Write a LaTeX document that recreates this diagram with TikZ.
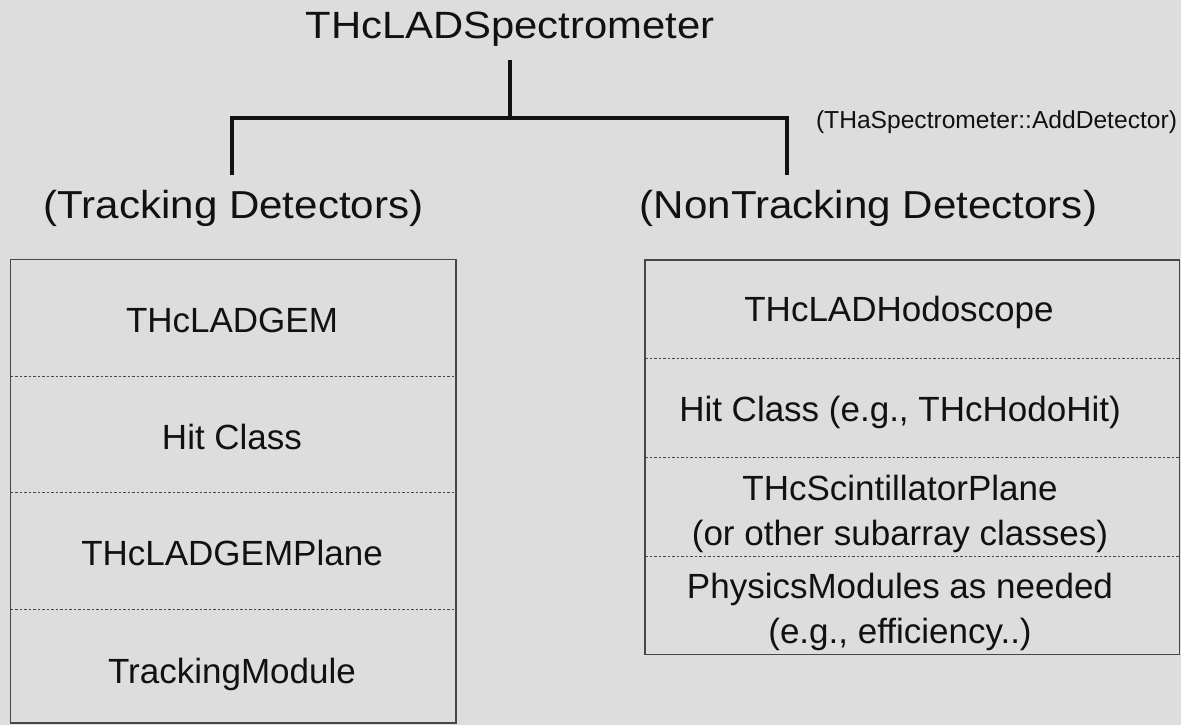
\documentclass[tikz,border=0pt]{standalone}
\usepackage{fontspec}
\setmainfont{Liberation Sans}
\newfontfamily\widef{Liberation Sans}[FakeStretch=1.08]
\newfontfamily\widerf{Liberation Sans}[FakeStretch=1.1]
\definecolor{bg}{RGB}{221,221,221}
\definecolor{frame}{RGB}{70,70,70}
\definecolor{ink}{RGB}{17,17,17}
\begin{document}
\begin{tikzpicture}[x=1pt,y=-1pt,
  conn/.style={line width=4pt,ink,line join=miter},
  boxline/.style={line width=1.3pt,frame},
  sepline/.style={line width=0.9pt,frame,dash pattern=on 2.5pt off 2pt},
  title/.style={anchor=base,inner sep=0pt,text=ink,font=\widerf\fontsize{38}{40}\selectfont},
  head/.style={anchor=base,inner sep=0pt,text=ink,font=\widef\fontsize{39}{42}\selectfont},
  cell/.style={anchor=base,inner sep=0pt,text=ink,font=\fontsize{35}{38}\selectfont},
  note/.style={anchor=base,inner sep=0pt,text=ink,font=\fontsize{24.6}{26}\selectfont}]
\fill[bg] (0,0) rectangle (1181,725);
\useasboundingbox (0,0) rectangle (1181,725);

% header texts
\node[title] (spec) at (510,38.3) {THcLADSpectrometer};
\node[note] (add) at (996.5,128.3) {(THaSpectrometer::AddDetector)};
\node[head] (trk) at (233.5,218.3) {(Tracking Detectors)};
\node[head] (ntrk) at (868.5,218.3) {(NonTracking Detectors)};

% tree connector
\coordinate (stemtop) at (510,60);
\coordinate (bar) at (510,118);
\coordinate (tdrop) at (232,175);
\coordinate (ndrop) at (787,175);
\draw[conn] (stemtop) -- (bar);
\draw[conn] (tdrop) |- (bar) -| (ndrop);

% left box
\draw[boxline] (10.5,259.5) rectangle (456,723);
\draw[sepline] (10.5,376) -- (456,376);
\draw[sepline] (10.5,492.7) -- (456,492.7);
\draw[sepline] (10.5,609.3) -- (456,609.3);
\node[cell] (gem) at (232,332.7) {THcLADGEM};
\node[cell] (hitl) at (232,449.3) {Hit Class};
\node[cell] (gemp) at (232,565) {THcLADGEMPlane};
\node[cell] (trkm) at (232,683) {TrackingModule};

% right box
\draw[boxline] (645,260) rectangle (1179.3,654.7);
\draw[sepline] (645,358.3) -- (1179.3,358.3);
\draw[sepline] (645,457.3) -- (1179.3,457.3);
\draw[sepline] (645,556) -- (1179.3,556);
\node[cell] (hodo) at (899,321.7) {THcLADHodoscope};
\node[cell] (hitr) at (900,421.7) {Hit Class (e.g., THcHodoHit)};
\node[cell] (scin) at (900,500) {THcScintillatorPlane};
\node[cell] (scin2) at (900,545) {(or other subarray classes)};
\node[cell] (phys) at (900,598.3) {PhysicsModules as needed};
\node[cell] (phys2) at (900,643.3) {(e.g., efficiency..)};
\end{tikzpicture}
\end{document}
